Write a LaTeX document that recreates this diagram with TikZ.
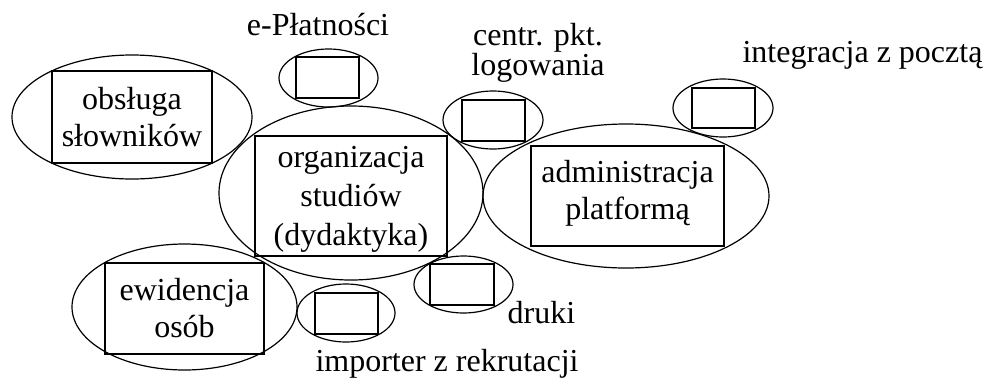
\documentclass[tikz,border=0pt]{standalone}
\usepackage{fontspec}
\setmainfont{Liberation Serif}
\usetikzlibrary{shapes.geometric}
\frenchspacing
\begin{document}
\begin{tikzpicture}[x=1pt,y=-1pt,
  oval/.style={draw,ellipse,line width=1.2pt,inner sep=0pt},
  box/.style={draw,rectangle,line width=1.6pt,inner sep=0pt,align=center,
    font=\fontsize{32}{37}\selectfont},
  lbl/.style={inner sep=0pt,anchor=base,font=\fontsize{32}{37}\selectfont}]
\useasboundingbox (0,0) rectangle (987,378);
% big ellipses
\node[oval,minimum width=240pt,minimum height=124pt] (e1) at (132,117) {};
\node[oval,minimum width=264pt,minimum height=174pt] (e2) at (351,193) {};
\node[oval,minimum width=286pt,minimum height=144pt] (e3) at (626,196) {};
\node[oval,minimum width=225pt,minimum height=126pt] (e4) at (184.5,307) {};
% big boxes
\node[box,minimum width=160pt,minimum height=92pt] (r1) at (132,117) {obsługa\\słowników};
\node[box,minimum width=192pt,minimum height=120pt,font=\fontsize{32}{39}\selectfont] (r2) at (351,196) {\rule{0pt}{28pt}organizacja\\studiów\\(dydaktyka)};
\node[box,minimum width=193pt,minimum height=100pt] (r3) at (627.5,196) {administracja\\platformą\rule[-13pt]{0pt}{13pt}};
\node[box,minimum width=159pt,minimum height=91pt] (r4) at (184.5,308.5) {ewidencja\\osób};
% small ellipses
\node[oval,minimum width=99pt,minimum height=58pt] (e5) at (328.5,78) {};
\node[oval,minimum width=100pt,minimum height=58pt] (e6) at (493,120) {};
\node[oval,minimum width=100pt,minimum height=58pt] (e7) at (723,108) {};
\node[oval,minimum width=99pt,minimum height=57pt] (e8) at (463.5,284.5) {};
\node[oval,minimum width=98pt,minimum height=58pt] (e9) at (346,313) {};
% small boxes
\node[box,minimum width=63pt,minimum height=41pt] (r5) at (327.5,77.5) {};
\node[box,minimum width=63pt,minimum height=41pt] (r6) at (493.5,120.5) {};
\node[box,minimum width=63pt,minimum height=40pt] (r7) at (723.5,108) {};
\node[box,minimum width=64pt,minimum height=41pt] (r8) at (462,284.5) {};
\node[box,minimum width=63pt,minimum height=41pt] (r9) at (346.5,313.5) {};
% labels
\node[lbl] (t5) at (318,35) {e-Płatności};
\node[lbl,text width=200pt,align=center,font=\fontsize{32}{27}\selectfont] (t6) at (538,45) {centr. pkt.\\logowania};
\node[lbl] (t7) at (862.5,62) {integracja z pocztą};
\node[lbl] (t8) at (541.5,323) {druki};
\node[lbl] (t9) at (447,371) {importer z rekrutacji};
\end{tikzpicture}
\end{document}
